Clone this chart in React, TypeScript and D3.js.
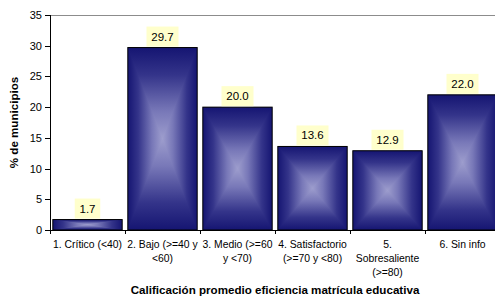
import React from "react";
import * as d3 from "d3";

const categories = ["c1", "c2", "c3", "c4", "c5", "c6"];
const categoryLines = [
  ["1. Crítico (<40)"],
  ["2. Bajo (>=40 y", "<60)"],
  ["3. Medio (>=60", "y <70)"],
  ["4. Satisfactorio", "(>=70 y <80)"],
  ["5.", "Sobresaliente", "(>=80)"],
  ["6. Sin info"],
];
const values = [1.7, 29.7, 20.0, 13.6, 12.9, 22.0];
const yTicks = [0, 5, 10, 15, 20, 25, 30, 35];
const xTitle = "Calificación promedio eficiencia matrícula educativa";
const yTitle = "% de municipios";

const W = 495;
const H = 299;
const left = 50;
const right = 500;
const top = 15;
const bottom = 230;
const FONT = "'Liberation Sans', Arial, sans-serif";

const gradStops: [number, string][] = [
  [0, "#151572"],
  [0.3, "#34348a"],
  [0.7, "#7878b8"],
  [1, "#9d9dcd"],
];

export default function App() {
  const x = d3.scaleBand<string>().domain(categories).range([left, right]).paddingInner(0.075).paddingOuter(0.0375);
  const y = d3.scaleLinear().domain([0, 35]).range([bottom, top]);
  const step = x.step();

  const stops = gradStops.map(([o, c], i) => <stop key={i} offset={o} stopColor={c} />);
  const mirror = [
    ...gradStops.map(([o, c], i) => <stop key={"a" + i} offset={o / 2} stopColor={c} />),
    ...gradStops
      .slice()
      .reverse()
      .map(([o, c], i) => <stop key={"b" + i} offset={1 - o / 2} stopColor={c} />),
  ];

  return (
    <svg width={W} height={H} style={{ position: "absolute", left: 0, top: 0, display: "block" }}>
      <defs>
        <linearGradient id="gT" x1="0" y1="0" x2="0" y2="1">{stops}</linearGradient>
        <linearGradient id="gB" x1="0" y1="1" x2="0" y2="0">{stops}</linearGradient>
        <linearGradient id="gH" x1="0" y1="0" x2="1" y2="0">{mirror}</linearGradient>
      </defs>
      <rect x={0} y={0} width={W} height={H} fill="#fff" />
      <line x1={left} x2={right} y1={top + 0.5} y2={top + 0.5} stroke="#8c8c8c" strokeWidth={1} />
      {categories.map((c, i) => {
        const x0 = x(c)!;
        const w = x.bandwidth();
        const y0 = y(values[i]);
        const y1 = y(0);
        const h = y1 - y0;
        const cx = x0 + w / 2;
        const cy = y0 + h / 2;
        return (
          <g key={c}>
            <rect x={x0} y={y0} width={w} height={h} fill="url(#gH)" />
            <polygon points={`${x0},${y0} ${x0 + w},${y0} ${cx},${cy}`} fill="url(#gT)" />
            <polygon points={`${x0},${y1} ${x0 + w},${y1} ${cx},${cy}`} fill="url(#gB)" />
            <rect x={x0} y={y0} width={w} height={h} fill="none" stroke="#000" strokeWidth={1} />
          </g>
        );
      })}
      {categories.map((c, i) => {
        const cx = x(c)! + x.bandwidth() / 2;
        const y0 = y(values[i]);
        const label = values[i].toFixed(1);
        const bw = label.length * 6.5 + 6;
        return (
          <g key={"l" + c}>
            <rect x={cx - bw / 2} y={y0 - 21} width={bw} height={20} fill="#ffffcc" />
            <text x={cx} y={y0 - 7} textAnchor="middle" fontFamily={FONT} fontSize={11.5} fill="#000">{label}</text>
          </g>
        );
      })}
      <line x1={left + 0.5} x2={left + 0.5} y1={top} y2={bottom} stroke="#000" />
      {yTicks.map((t) => (
        <g key={"y" + t}>
          <line x1={left - 5} x2={left} y1={Math.round(y(t)) + 0.5} y2={Math.round(y(t)) + 0.5} stroke="#000" />
          <text x={left - 8} y={y(t) + 4} textAnchor="end" fontFamily={FONT} fontSize={11} fill="#000">{t}</text>
        </g>
      ))}
      <line x1={left} x2={right} y1={bottom + 0.5} y2={bottom + 0.5} stroke="#000" />
      {d3.range(categories.length + 1).map((k) => {
        const xx = Math.round(left + k * step) + 0.5;
        return <line key={"xt" + k} x1={xx} x2={xx} y1={bottom} y2={bottom + 4} stroke="#000" />;
      })}
      {categories.map((c, i) => {
        const cx = x(c)! + x.bandwidth() / 2;
        return (
          <text key={"cl" + c} textAnchor="middle" fontFamily={FONT} fontSize={10.4} fill="#000">
            {categoryLines[i].map((ln, j) => (
              <tspan key={j} x={cx} y={248 + j * 14}>{ln}</tspan>
            ))}
          </text>
        );
      })}
      <text x={(left + right) / 2} y={294} textAnchor="middle" fontFamily={FONT} fontSize={11.6} fontWeight="bold" fill="#000">{xTitle}</text>
      <text transform={`translate(18,${(top + bottom) / 2}) rotate(-90)`} textAnchor="middle" fontFamily={FONT} fontSize={11.6} fontWeight="bold" fill="#000">{yTitle}</text>
    </svg>
  );
}
